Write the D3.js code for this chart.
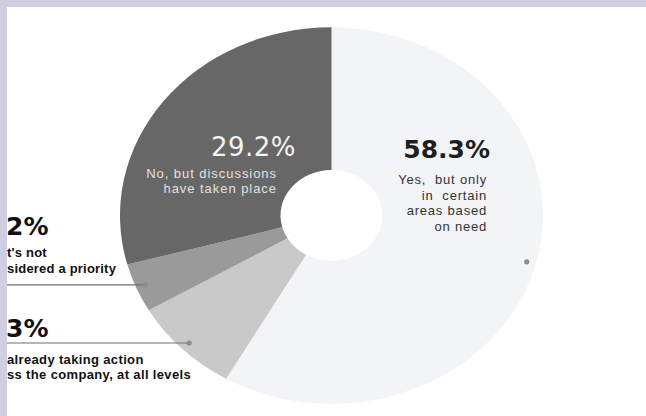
<!DOCTYPE html>
<html>
<head>
<meta charset="utf-8">
<script src="https://cdn.jsdelivr.net/npm/d3@7"></script>
<style>
  html, body { margin: 0; padding: 0; background: #ffffff; }
  svg { display: block; }
</style>
</head>
<body>
<svg id="chart" width="646" height="416"></svg>
<script>
// ---- data (clockwise from 12 o'clock) ----
const categories = [
  "Yes, but only in certain areas based on need",
  "Yes, already taking action across the company, at all levels",
  "No, it's not considered a priority",
  "No, but discussions have taken place"
];
const values = [58.3, 8.3, 4.2, 29.2];
const colors = ["#f3f4f6", "#c9c9c9", "#9a9a9a", "#676767"];
// label texts as visible in the picture (left ones are cut by the frame)
const pctLabels = ["58.3%", "3%", "2%", "29.2%"];
const subLabels = [
  ["Yes,  but only", "in  certain", "areas based", "on need"],
  ["already taking action", "ss the company, at all levels"],
  ["t's not", "sidered a priority"],
  ["No, but discussions", "have taken place"]
];

const W = 646, H = 416;
const cx = 331.5, cy = 215.5, R = 211.5, r0 = 51, sy = 0.89;

const svg = d3.select("#chart");
svg.append("rect").attr("width", W).attr("height", H).attr("fill", "#ffffff");

const pie = d3.pie().sort(null).value(d => d)(values);
const arc = d3.arc().innerRadius(r0).outerRadius(R);

const g = svg.append("g").attr("transform", `translate(${cx},${cy}) scale(1,${sy})`);
g.selectAll("path").data(pie).join("path")
  .attr("d", arc)
  .attr("fill", (d, i) => colors[i]);

// leader dots at slice mid-angle
const dotArc = d3.arc().innerRadius(202).outerRadius(202);
const dotPos = d => { const [x, y] = dotArc.centroid(d); return [cx + x, cy + y * sy]; };

// leader lines for the two small slices
[1, 2].forEach(i => {
  const [x, y] = dotPos(pie[i]);
  svg.append("line").attr("x1", 0).attr("x2", x).attr("y1", y).attr("y2", y)
    .attr("stroke", "#6e6e6e").attr("stroke-width", 1.2);
});
pie.forEach((d, i) => {
  if (i === 3) return;
  const [x, y] = dotPos(d);
  svg.append("circle").attr("cx", x).attr("cy", y).attr("r", 2.6).attr("fill", "#8c8c8c");
});

// ---- labels ----
const pctFont = "'DejaVu Sans', sans-serif";
const subFont = "'Liberation Sans', Arial, sans-serif";

// 58.3% (largest slice)
svg.append("text").attr("x", 490).attr("y", 158).attr("text-anchor", "end")
  .attr("font-family", pctFont).attr("font-weight", "bold").attr("font-size", 25)
  .attr("fill", "#1e1e1e").text(pctLabels[0]);
subLabels[0].forEach((t, k) => {
  svg.append("text").attr("x", 487).attr("y", 184 + k * 15.7).attr("text-anchor", "end")
    .attr("font-family", subFont).attr("font-size", 13).attr("letter-spacing", 0.8)
    .style("white-space", "pre")
    .attr("fill", "#333333").text(t);
});

// 29.2% (dark slice)
svg.append("text").attr("x", 296).attr("y", 156).attr("text-anchor", "end")
  .attr("font-family", pctFont).attr("font-size", 26).attr("letter-spacing", 0.5)
  .attr("fill", "#f2f2f2").text(pctLabels[3]);
subLabels[3].forEach((t, k) => {
  svg.append("text").attr("x", 277).attr("y", 177.5 + k * 15.7).attr("text-anchor", "end")
    .attr("font-family", subFont).attr("font-size", 13).attr("letter-spacing", 0.95)
    .attr("fill", "#e2e2e2").text(t);
});

// left labels (cut by frame)
svg.append("text").attr("x", 6).attr("y", 235)
  .attr("font-family", pctFont).attr("font-weight", "bold").attr("font-size", 25)
  .attr("fill", "#111111").text(pctLabels[2]);
subLabels[2].forEach((t, k) => {
  svg.append("text").attr("x", 7).attr("y", 257 + k * 15.5)
    .attr("font-family", subFont).attr("font-weight", "bold").attr("font-size", 13)
    .attr("letter-spacing", 0.2)
    .attr("fill", "#111111").text(t);
});
svg.append("text").attr("x", 6).attr("y", 337)
  .attr("font-family", pctFont).attr("font-weight", "bold").attr("font-size", 25)
  .attr("fill", "#111111").text(pctLabels[1]);
subLabels[1].forEach((t, k) => {
  svg.append("text").attr("x", 7).attr("y", 364 + k * 15)
    .attr("font-family", subFont).attr("font-weight", "bold").attr("font-size", 13)
    .attr("letter-spacing", 0.35)
    .attr("fill", "#111111").text(t);
});

// lavender frame (top and left)
svg.append("rect").attr("x", 0).attr("y", 0).attr("width", W).attr("height", 7).attr("fill", "#d0cfe1");
svg.append("rect").attr("x", 0).attr("y", 0).attr("width", 7).attr("height", H).attr("fill", "#d0cfe1");
</script>
</body>
</html>
